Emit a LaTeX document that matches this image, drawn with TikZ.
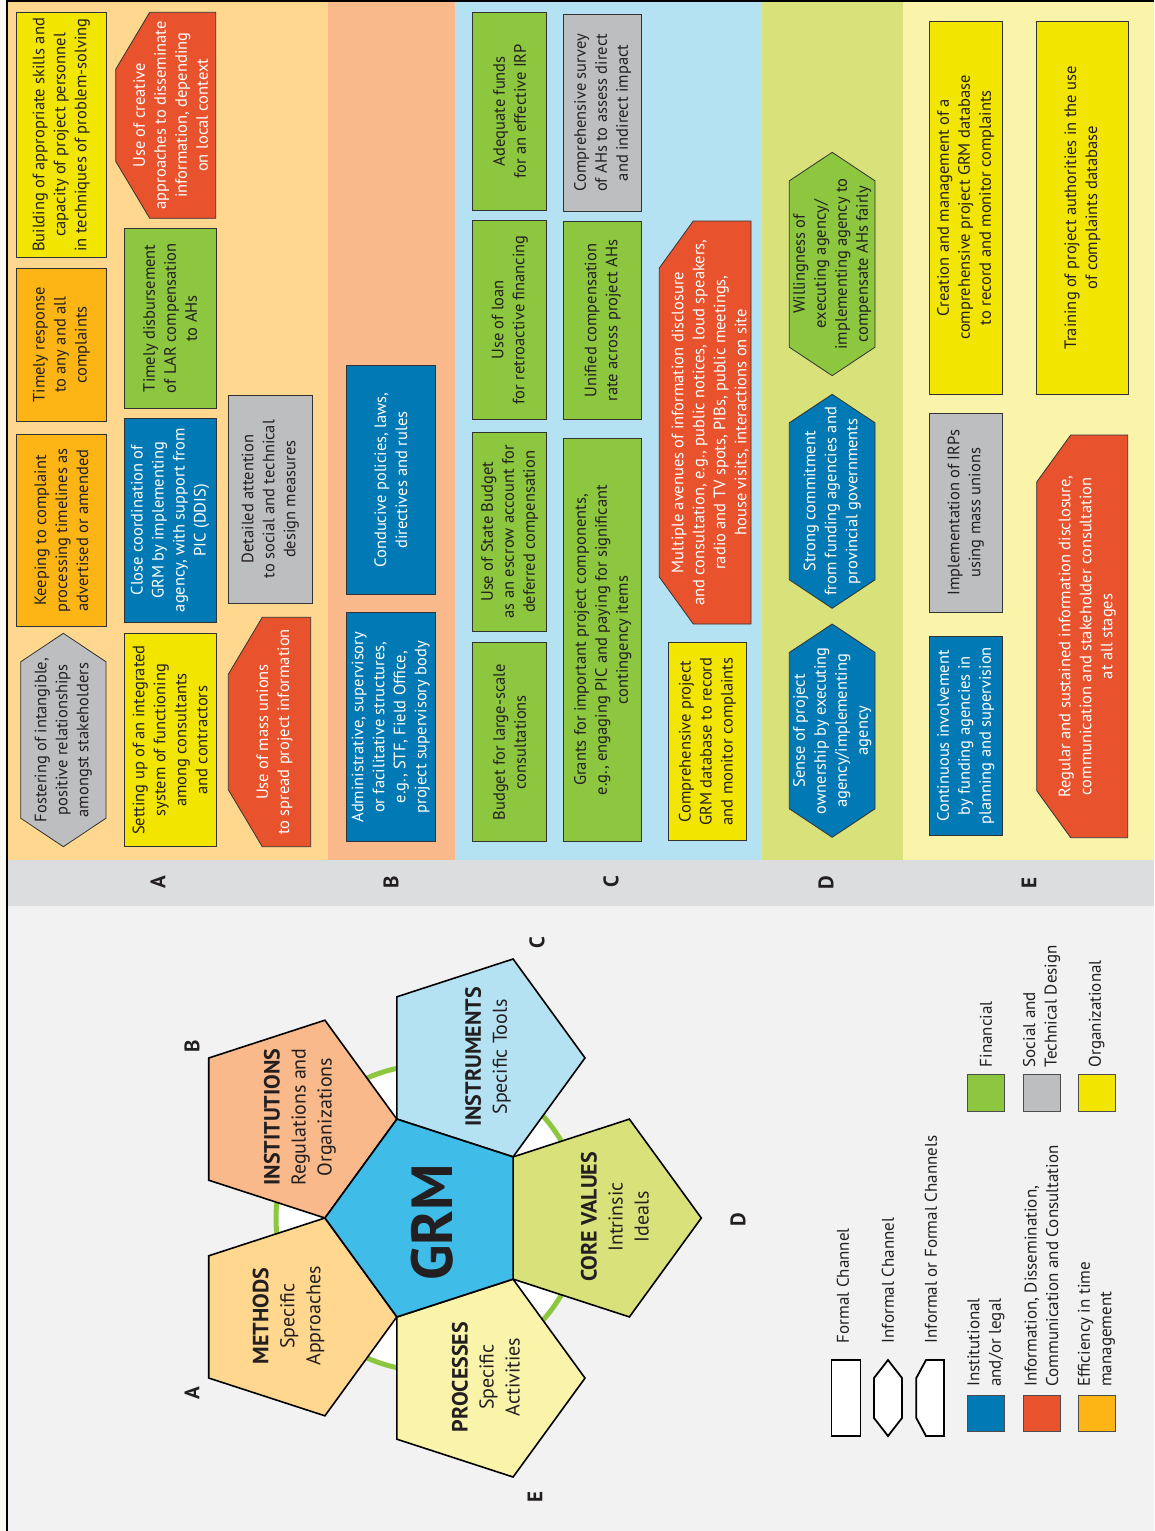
\documentclass[tikz,border=0pt]{standalone}
\usepackage{fontspec}
\setmainfont{PT Sans}
\definecolor{cA}{HTML}{FFD78F}
\definecolor{cB}{HTML}{F9B98A}
\definecolor{cC}{HTML}{B5E2F2}
\definecolor{cD}{HTML}{D9E27A}
\definecolor{cE}{HTML}{FAF3AA}
\definecolor{cyel}{HTML}{F2E500}
\definecolor{corg}{HTML}{FDB515}
\definecolor{cred}{HTML}{E8532D}
\definecolor{cgrn}{HTML}{8DC63F}
\definecolor{cblu}{HTML}{0079B5}
\definecolor{cgry}{HTML}{BCBEC0}
\definecolor{cgrm}{HTML}{40BCE8}
\definecolor{cstrip}{HTML}{DCDDDF}
\definecolor{cbg}{HTML}{F2F2F2}
\definecolor{cpage}{HTML}{FAFAF3}
\definecolor{ctxt}{HTML}{231F20}
\tikzset{
  boxline/.style={draw=black!80, line width=0.8pt},
  boxtext/.style={rotate=90, align=center, inner sep=0pt, font=\fontsize{16.5}{21}\selectfont},
  pent/.style={draw=black, line width=1.6pt},
  pentext/.style={rotate=90, align=center, inner sep=0pt, text=ctxt, font=\fontsize{20}{26}\selectfont},
  letter/.style={rotate=90, inner sep=0pt, text=ctxt, font=\fontsize{21}{21}\selectfont\bfseries},
  legline/.style={draw=black, line width=1.8pt, fill=white},
  legtext/.style={rotate=90, inner sep=0pt, text=ctxt, font=\fontsize{17}{21.5}\selectfont},
  sq/.style={draw=black!70, line width=0.8pt},
}
\newcommand\grmRect[8]{%
  \path[boxline, fill=#6] (#2,#3) rectangle (#4,#5);
  \node[boxtext, text=#7] (#1) at ({(#2+#4)/2},{(#3+#5)/2}) {#8};
}
\newcommand\grmHex[8]{%
  \path[boxline, fill=#6] (#2,#3+28.5) -- ({(#2+#4)/2},#3) -- (#4,#3+28.5) -- (#4,#5-28.5) -- ({(#2+#4)/2},#5) -- (#2,#5-28.5) -- cycle;
  \node[boxtext, text=#7] (#1) at ({(#2+#4)/2},{(#3+#5)/2}) {#8};
}
\newcommand\grmCham[7]{%
  \path[boxline, fill=cred] (#2,#3+#6) -- (#2+34,#3) -- (#4,#3) -- (#4,#5) -- (#2+34,#5) -- (#2,#5-#6) -- cycle;
  \node[boxtext, text=white] (#1) at ({(#2+#4)/2+5},{(#3+#5)/2}) {#7};
}
\begin{document}
\begin{tikzpicture}[x=1pt,y=-1pt]
\useasboundingbox (0,0) rectangle (1154,1531);
\fill[cpage] (0,0) rectangle (1154,1531);
\fill[cbg] (7,1) rectangle (1154,1531);
% column bands
\fill[cA] (7,1) rectangle (328,860);
\fill[cB] (328,1) rectangle (455,860);
\fill[cC] (455,1) rectangle (762,860);
\fill[cD] (762,1) rectangle (903,860);
\fill[cE] (903,1) rectangle (1154,860);
\fill[cstrip] (7,860) rectangle (1154,906);
\draw[line width=1.5pt, black] (7,1531) -- (7,1) -- (1154,1);
% column letters
\node[letter] (colA) at (158,882) {A};
\node[letter] (colB) at (391,882) {B};
\node[letter] (colC) at (611,882) {C};
\node[letter] (colD) at (826,883) {D};
\node[letter] (colE) at (1029,883) {E};

% Column A
\grmRect{a1}{16.7}{12.3}{106}{257.7}{cyel}{ctxt}{Building of appropriate skills and\\capacity of project personnel\\in techniques of problem-solving}
\grmRect{a2}{16.7}{268}{106}{421.7}{corg}{ctxt}{Timely response\\to any and all\\complaints}
\grmRect{a3}{16.7}{434.3}{106}{626.7}{corg}{ctxt}{Keeping to complaint\\processing timelines as\\advertised or amended}
\grmHex{a4}{20.7}{633.3}{106}{846.7}{cgry}{ctxt}{Fostering of intangible,\\positive relationships\\amongst stakeholders}
\grmCham{a5}{115.7}{12.3}{215.7}{218.3}{57}{Use of creative\\approaches to disseminate\\information, depending\\on local context}
\grmRect{a6}{124.3}{228.3}{216}{408.3}{cgrn}{ctxt}{Timely disbursement\\of LAR compensation\\to AHs}
\grmRect{a7}{124.3}{418.3}{216}{622.3}{cblu}{white}{Close coordination of\\GRM by implementing\\agency, with support from\\PIC (DDIS)}
\grmRect{a8}{124.3}{633.3}{216}{846.7}{cyel}{ctxt}{Setting up of an integrated\\system of functioning\\among consultants\\and contractors}
\grmRect{a9}{228.3}{395}{312.3}{603.3}{cgry}{ctxt}{Detailed attention\\to social and technical\\design measures}
\grmCham{a10}{228.3}{617.3}{310.7}{846.7}{57}{Use of mass unions\\to spread project information}

% Column B
\grmRect{b1}{346}{365.7}{435.7}{594.3}{cblu}{white}{Conducive policies, laws,\\directives and rules}
\grmRect{b2}{346}{612.7}{435.7}{841.7}{cblu}{white}{Administrative, supervisory\\or facilitative structures,\\e.g., STF, Field Office,\\project supervisory body}

% Column C
\grmRect{c1}{472.7}{12.3}{546.7}{210}{cgrn}{ctxt}{Adequate funds\\for an effective IRP}
\grmRect{c2}{563.7}{14}{641.7}{211.7}{cgry}{ctxt}{Comprehensive survey\\of AHs to assess direct\\and indirect impact}
\grmRect{c3}{472.7}{220.7}{546.7}{419}{cgrn}{ctxt}{Use of loan\\for retroactive financing}
\grmRect{c4}{563.7}{221.7}{641.7}{419.3}{cgrn}{ctxt}{Unified compensation\\rate across project AHs}
\grmCham{c5}{659.3}{221}{751}{624}{47}{Multiple avenues of information disclosure\\and consultation, e.g., public notices, loud speakers,\\radio and TV spots, PIBs, public meetings,\\house visits, interactions on site}
\grmRect{c6}{472.7}{432.7}{546.7}{631}{cgrn}{ctxt}{Use of State Budget\\as an escrow account for\\deferred compensation}
\grmRect{c7}{472.7}{642.7}{546.7}{841.7}{cgrn}{ctxt}{Budget for large-scale\\consultations}
\grmRect{c8}{563.7}{438.3}{641.7}{841.7}{cgrn}{ctxt}{Grants for important project components,\\e.g., engaging PIC and paying for significant\\contingency items}
\grmRect{c9}{668.3}{642.3}{746.7}{840.7}{cyel}{ctxt}{Comprehensive project\\GRM database to record\\and monitor complaints}

% Column D
\grmHex{d1}{789.3}{152.3}{875}{375.7}{cgrn}{ctxt}{Willingness of\\executing agency/\\implementing agency to\\compensate AHs fairly}
\grmHex{d2}{789.3}{394.3}{875}{608.3}{cblu}{white}{Strong commitment\\from funding agencies and\\provincial governments}
\grmHex{d3}{789.3}{624}{875}{837.3}{cblu}{white}{Sense of project\\ownership by executing\\agency/implementing\\agency}

% Column E
\grmRect{e1}{929}{21}{1002.3}{394.3}{cyel}{ctxt}{Creation and management of a\\comprehensive project GRM database\\to record and monitor complaints}
\grmRect{e2}{1036.7}{21}{1128.3}{394.3}{cyel}{ctxt}{Training of project authorities in the use\\of complaints database}
\grmRect{e3}{929.3}{413.3}{1002.3}{612}{cgry}{ctxt}{Implementation of IRPs\\using mass unions}
\grmRect{e4}{929.3}{636.7}{1002.3}{835}{cblu}{white}{Continuous involvement\\by funding agencies in\\planning and supervision}
\grmCham{e5}{1036.7}{435}{1127.7}{837.7}{47}{Regular and sustained information disclosure,\\communication and stakeholder consultation\\at all stages}

% GRM flower
\draw[cgrn, line width=5pt, fill=white] (429,1218) circle[radius=153pt];
\draw[pent, fill=cA] (208.7,1378.0) -- (208.7,1255.8) -- (324.9,1218.0) -- (396.8,1316.9) -- (324.9,1415.8) -- cycle;
\draw[pent, fill=cB] (208.7,1058.0) -- (324.9,1020.2) -- (396.8,1119.1) -- (324.9,1218.0) -- (208.7,1180.2) -- cycle;
\draw[pent, fill=cC] (513.1,959.0) -- (585.0,1057.9) -- (513.1,1156.8) -- (396.9,1119.0) -- (396.9,996.8) -- cycle;
\draw[pent, fill=cD] (701.3,1218) -- (629.4,1316.9) -- (513.1,1279.1) -- (513.1,1156.9) -- (629.4,1119.1) -- cycle;
\draw[pent, fill=cE] (513.1,1477.0) -- (396.9,1439.2) -- (396.9,1317.0) -- (513.1,1279.2) -- (585.0,1378.1) -- cycle;
\draw[pent, fill=cgrm] (325,1218) -- (396.9,1119.1) -- (513.1,1156.9) -- (513.1,1279.1) -- (396.9,1316.9) -- cycle;
\node[rotate=90, inner sep=0pt, text=ctxt, font=\fontsize{58}{58}\selectfont\bfseries] (grm) at (432,1222) {GRM};
\node[pentext] (pA) at (288.5,1316) {\textbf{\fontsize{22}{26}\selectfont METHODS}\\Specific\\Approaches};
\node[pentext] (pB) at (300,1117) {\textbf{\fontsize{22}{26}\selectfont INSTITUTIONS}\\Regulations and\\Organizations};
\node[pentext] (pC) at (488,1057) {\textbf{\fontsize{22}{26}\selectfont INSTRUMENTS}\\Specific Tools};
\node[pentext] (pD) at (615,1217) {\textbf{\fontsize{22}{26}\selectfont CORE VALUES}\\Intrinsic\\Ideals};
\node[pentext] (pE) at (486,1377) {\textbf{\fontsize{22}{26}\selectfont PROCESSES}\\Specific\\Activities};
\node[letter] (lA) at (192,1393) {A};
\node[letter] (lB) at (192,1046) {B};
\node[letter] (lC) at (537,943) {C};
\node[letter] (lD) at (738,1220) {D};
\node[letter] (lE) at (535,1497) {E};

% Legend: channels
\draw[legline] (831.4,1359.6) rectangle (860.4,1436);
\draw[legline] (888,1360) -- (902,1378) -- (902,1418) -- (888,1436) -- (874,1418) -- (874,1378) -- cycle;
\draw[legline] (926,1360) -- (944,1360) -- (944,1436) -- (926,1436) -- (916.3,1418) -- (916.3,1378) -- cycle;
\node[legtext, anchor=west] (lgf) at (843,1343.5) {Formal Channel};
\node[legtext, anchor=west] (lgi) at (888,1343.5) {Informal Channel};
\node[legtext, anchor=west] (lgif) at (931,1343.5) {Informal or Formal Channels};

% Legend: categories
\path[sq, fill=cblu] (967.5,1395) rectangle (1004.6,1431);
\path[sq, fill=cred] (1023,1395) rectangle (1060,1431);
\path[sq, fill=corg] (1078,1395) rectangle (1115,1431);
\path[sq, fill=cgrn] (967.5,1074) rectangle (1004.6,1111);
\path[sq, fill=cgry] (1023,1074) rectangle (1060,1111);
\path[sq, fill=cyel] (1078,1074) rectangle (1115,1111);
\node[legtext, anchor=west, align=left] (lgblu) at (986,1387) {Institutional\\and/or legal};
\node[legtext, anchor=west, align=left] (lgred) at (1041.5,1387) {Information, Dissemination,\\Communication and Consultation};
\node[legtext, anchor=west, align=left] (lgorg) at (1096.5,1387) {Efficiency in time\\management};
\node[legtext, anchor=west, align=left] (lggrn) at (986,1067.4) {Financial};
\node[legtext, anchor=west, align=left] (lggry) at (1041.5,1067.4) {Social and\\Technical Design};
\node[legtext, anchor=west, align=left] (lgyel) at (1096.5,1067.4) {Organizational};
\end{tikzpicture}
\end{document}
